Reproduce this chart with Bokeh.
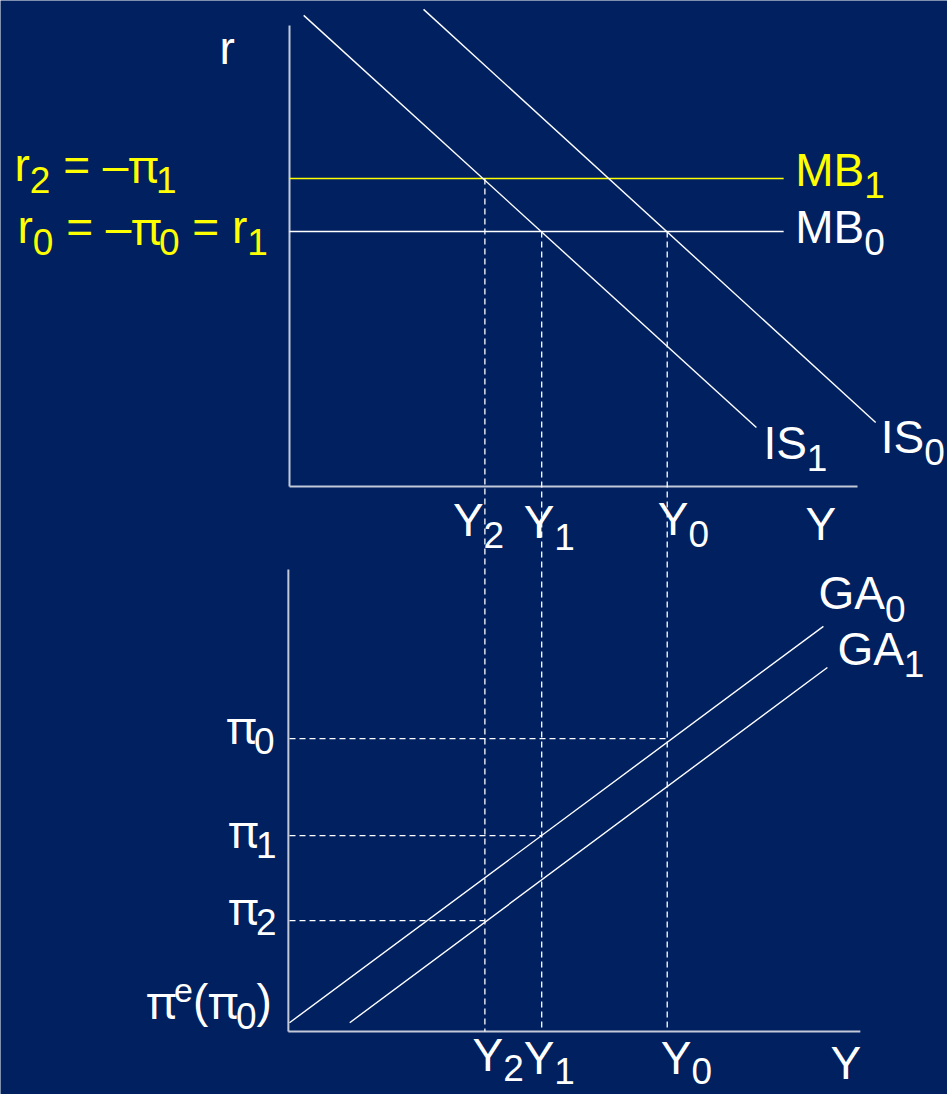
from bokeh.plotting import figure
from bokeh.models import Range1d
from bokeh.core.properties import value
from bokeh.embed import file_html
from bokeh.resources import INLINE

# ---------------- data (diagram units: output 0..100, r 0..100, pi 0..100) ----------------
Y_NAMES = ["2", "1", "0"]            # Y2, Y1, Y0
Y_LEVELS = [34.4, 44.4, 66.5]
R_NAMES = ["0", "1"]                 # MB0, MB1
R_LEVELS = [55.3, 66.8]              # r0 (= r1), r2
MB_X = [0.0, 87.0]
IS0_X = [23.6, 103.2]
IS0_R = [103.5, 13.9]
IS1_X = [2.5, 82.2]
IS1_R = [102.2, 12.8]
PI_NAMES = ["0", "1", "2"]
PI_LEVELS = [63.4, 42.4, 24.0]       # pi0, pi1, pi2
GA0_X = [0.0, 94.0]
GA0_P = [1.9, 87.7]
GA1_X = [10.6, 94.7]
GA1_P = [1.9, 78.8]
AXIS_MAX = 100.0

# ---------------- layout ----------------
BG = "#002060"
YELLOW = "#FFFF00"
WHITE = "#FFFFFF"
AXIS_C = "#c4c9d8"
FONT = "Liberation Sans"
PI_FONT = "Noto Sans"
MAIN, SUB, SUP = 46, 37, 34
BASE_SHIFT = 0.41          # correction of the rendered baseline, in em
W_PAGE, H_PAGE = 947, 1094

SX, X0 = 5.68, 289.0      # px per output unit, x of output 0
SR, R0 = 4.61, 486.0      # top panel
SP, P0 = 4.62, 1031.0     # bottom panel


def x_px(X):
    return X0 + X * SX


def X_of(px):
    return (px - X0) / SX


def R_of(py):
    return (R0 - py) / SR


def py_R(R):
    return R0 - R * SR


def py_P(P):
    return P0 - P * SP


p = figure(width=W_PAGE, height=H_PAGE,
           x_range=Range1d(X_of(0), X_of(W_PAGE)),
           y_range=Range1d(R_of(H_PAGE), R_of(0)),
           output_backend="svg", toolbar_location=None,
           x_axis_location=None, y_axis_location=None,
           min_border=0, background_fill_color=BG, border_fill_color=BG,
           outline_line_color=None)
p.grid.visible = False
p.extra_y_ranges = {"pi": Range1d((P0 - H_PAGE) / SP, P0 / SP)}

# axes
p.line([0, 0], [0, AXIS_MAX], line_color=AXIS_C, line_width=2)
p.line([0, AXIS_MAX], [0, 0], line_color=AXIS_C, line_width=2)
p.line([-0.2, -0.2], [0, AXIS_MAX], line_color=AXIS_C, line_width=2, y_range_name="pi")
p.line([-0.2, 100.5], [0, 0], line_color=AXIS_C, line_width=2, y_range_name="pi")

# MB lines
p.line(MB_X, [R_LEVELS[1]] * 2, line_color=YELLOW, line_width=1.4)
p.line(MB_X, [R_LEVELS[0]] * 2, line_color=WHITE, line_width=1.4)

# IS curves
p.line(IS0_X, IS0_R, line_color=WHITE, line_width=1.4)
p.line(IS1_X, IS1_R, line_color=WHITE, line_width=1.4)

# GA curves
p.line(GA0_X, GA0_P, line_color=WHITE, line_width=1.4, y_range_name="pi")
p.line(GA1_X, GA1_P, line_color=WHITE, line_width=1.4, y_range_name="pi")

# dashed verticals from the MB level down to the lower axis
bottom_R = R_of(py_P(0))
y_from = [R_LEVELS[1], R_LEVELS[0], R_LEVELS[0]]
for yl, r in zip(Y_LEVELS, y_from):
    p.line([yl, yl], [r, bottom_R], line_color=WHITE, line_width=1.3, line_dash="6 4")

# dashed horizontals in the lower panel
pi_to_y = [Y_LEVELS[2], Y_LEVELS[1], Y_LEVELS[0]]
for pl, yl in zip(PI_LEVELS, pi_to_y):
    p.line([0, yl], [pl, pl], line_color=WHITE, line_width=1.3, line_dash="6 4",
           y_range_name="pi")

# ---------------- text ----------------
WID = {'r': 0.333, '=': 0.584, ' ': 0.278, '–': 0.556, 'π': 0.60, 'M': 0.833,
       'B': 0.667, 'I': 0.278, 'S': 0.667, 'Y': 0.667, 'G': 0.778, 'A': 0.667,
       'e': 0.556, '(': 0.333, ')': 0.333}


def width(s, size):
    return sum(WID.get(c, 0.556) for c in s) * size


def put(px, py, txt, size, color):
    # split so that the Greek letter pi is drawn with an upright-pi font
    cur = px
    buf = ""
    chunks = []
    for c in txt:
        if c == "π":
            if buf:
                chunks.append((buf, FONT))
                buf = ""
            chunks.append((c, PI_FONT))
        else:
            buf += c
    if buf:
        chunks.append((buf, FONT))
    for s, f in chunks:
        lead = len(s) - len(s.lstrip(" "))
        t = s.strip(" ")
        if t:
            p.text(x=[X_of(cur + width(" " * lead, size))],
                   y=[R_of(py - BASE_SHIFT * size)], text=[t],
                   text_font=value(f), text_font_size=f"{size}px",
                   text_color=color, text_baseline="alphabetic", text_align="left")
        cur += width(s, size)
    return cur


def rich(px, py, pieces, color, sub_dy=12):
    cur = px
    for s, kind in pieces:
        size = MAIN if kind == "n" else (SUB if kind == "sub" else SUP)
        dy = 0 if kind == "n" else (sub_dy if kind == "sub" else -15)
        cur = put(cur, py + dy, s, size, color)


# top panel
rich(x_px(0) - 70, py_R(AXIS_MAX) + 41, [("r", "n")], WHITE)
rich(14, py_R(R_LEVELS[1]) + 5, [("r", "n"), ("2", "sub"), (" = –π", "n"), ("1", "sub")], YELLOW)
rich(17, py_R(R_LEVELS[0]) + 14, [("r", "n"), ("0", "sub"), (" = –π", "n"), ("0", "sub"),
                                   (" = r", "n"), ("1", "sub")], YELLOW)
rich(x_px(MB_X[1]) + 11.5, py_R(R_LEVELS[1]) + 10, [("MB", "n"), (R_NAMES[1], "sub")], YELLOW)
rich(x_px(MB_X[1]) + 11.5, py_R(R_LEVELS[0]) + 14, [("MB", "n"), (R_NAMES[0], "sub")], WHITE)
rich(x_px(IS1_X[1]) + 7, py_R(IS1_R[1]) + 34, [("IS", "n"), ("1", "sub")], WHITE)
rich(x_px(IS0_X[1]) + 5, py_R(IS0_R[1]) + 33, [("IS", "n"), ("0", "sub")], WHITE)
top_dx = [-32, -18, -9.5]
top_dy = [52, 54, 51]
for yl, nm, dx, dy in zip(Y_LEVELS, Y_NAMES, top_dx, top_dy):
    rich(x_px(yl) + dx, py_R(0) + dy, [("Y", "n"), (nm, "sub")], WHITE)
rich(805, py_R(0) + 56, [("Y", "n")], WHITE)

# bottom panel
rich(x_px(GA0_X[1]) - 5, py_P(GA0_P[1]) - 14, [("GA", "n"), ("0", "sub")], WHITE)
rich(x_px(GA1_X[1]) + 10, py_P(GA1_P[1]), [("GA", "n"), ("1", "sub")], WHITE)
pi_dy = [6, 13, 5]
pi_x = [226, 228, 228]
for pl, nm, dy, xx in zip(PI_LEVELS, PI_NAMES, pi_dy, pi_x):
    rich(xx, py_P(pl) + dy, [("π", "n"), (nm, "sub")], WHITE)
rich(146, py_P(0) - 12, [("π", "n"), ("e", "sup"), ("(π", "n"), ("0", "sub"), (")", "n")], WHITE)
bot_dx = [-12.4, -18, -6.5]
bot_dy = [42, 45, 45]
for yl, nm, dx, dy in zip(Y_LEVELS, Y_NAMES, bot_dx, bot_dy):
    rich(x_px(yl) + dx, py_P(0) + dy, [("Y", "n"), (nm, "sub")], WHITE, sub_dy=10)
rich(830, py_P(0) + 50, [("Y", "n")], WHITE)

open("out.html", "w").write(file_html(p, INLINE))
